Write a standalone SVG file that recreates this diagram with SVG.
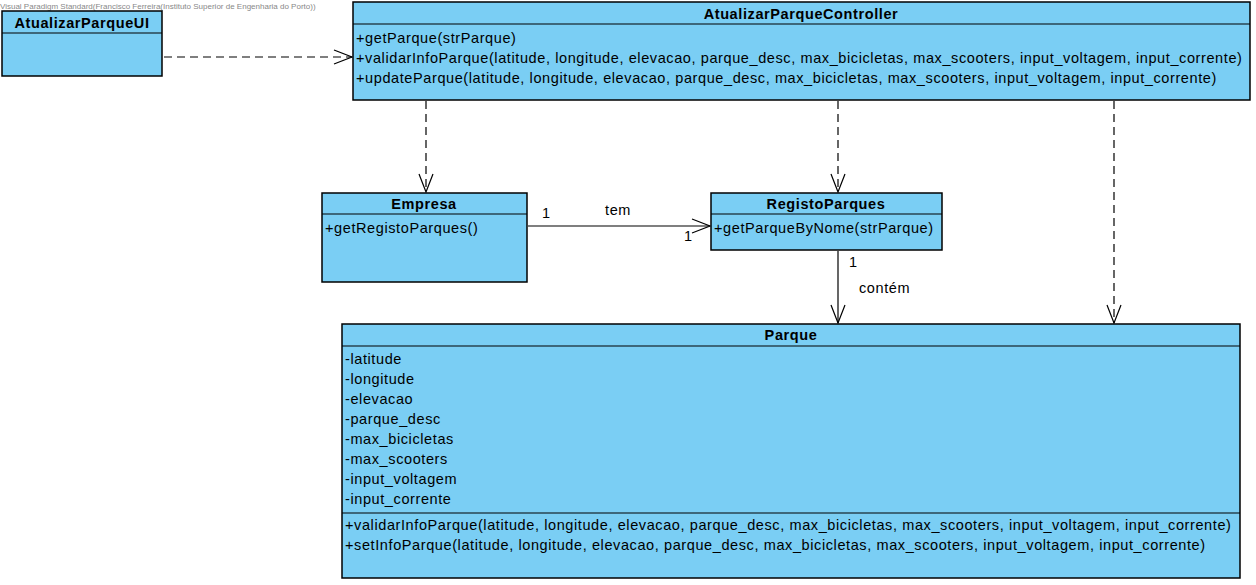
<svg xmlns="http://www.w3.org/2000/svg" width="1256" height="585" viewBox="0 0 1256 585">
<defs>
<style>
.box{fill:#7acef4;stroke:#000;stroke-width:1.5}
.div{stroke:#000;stroke-width:1.2}
.t{font-family:"Liberation Sans",Arial,sans-serif;font-size:14.5px;letter-spacing:0.6px;fill:#000}
.b{font-weight:bold;text-anchor:middle}
.dep{stroke:#000;stroke-width:1.2;fill:none;stroke-dasharray:8,5}
.asc{stroke:#000;stroke-width:1.2;fill:none}
.wm{font-family:"Liberation Sans",Arial,sans-serif;font-size:8px;fill:#888}
</style>
<marker id="open" viewBox="0 0 20 20" refX="19" refY="10" markerWidth="20" markerHeight="20" markerUnits="userSpaceOnUse" orient="auto">
<path d="M1,3 L19,10 L1,17" fill="none" stroke="#000" stroke-width="1.2"/>
</marker>
</defs>
<rect width="1256" height="585" fill="#fff"/>
<text class="wm" x="0" y="9">Visual Paradigm Standard(Francisco Ferreira(Instituto Superior de Engenharia do Porto))</text>

<g id="connectors">
<line class="dep" x1="164" y1="57" x2="352" y2="57" marker-end="url(#open)"/>
<line class="dep" x1="426" y1="101" x2="426" y2="192" marker-end="url(#open)"/>
<line class="dep" x1="838" y1="101" x2="838" y2="192" marker-end="url(#open)"/>
<line class="dep" x1="1114" y1="101" x2="1114" y2="323" marker-end="url(#open)"/>
<line class="asc" x1="528" y1="226" x2="710" y2="226" marker-end="url(#open)"/>
<text class="t" x="542" y="218">1</text>
<text class="t" x="605" y="215">tem</text>
<text class="t" x="684" y="241">1</text>
<line class="asc" x1="838" y1="251" x2="838" y2="323" marker-end="url(#open)"/>
<text class="t" x="849" y="267">1</text>
<text class="t" x="859" y="293">contém</text>
</g>

<g id="AtualizarParqueUI">
<rect class="box" x="2" y="11" width="160" height="65"/>
<line class="div" x1="2" y1="33" x2="162" y2="33"/>
<text class="t b" x="82" y="28">AtualizarParqueUI</text>
</g>

<g id="AtualizarParqueController">
<rect class="box" x="353" y="2" width="897" height="98"/>
<line class="div" x1="353" y1="24" x2="1250" y2="24"/>
<text class="t b" x="801" y="19">AtualizarParqueController</text>
<text class="t" x="356" y="43">+getParque(strParque)</text>
<text class="t" x="356" y="63">+validarInfoParque(latitude, longitude, elevacao, parque_desc, max_bicicletas, max_scooters, input_voltagem, input_corrente)</text>
<text class="t" x="356" y="83">+updateParque(latitude, longitude, elevacao, parque_desc, max_bicicletas, max_scooters, input_voltagem, input_corrente)</text>
</g>

<g id="Empresa">
<rect class="box" x="322" y="193" width="205" height="89"/>
<line class="div" x1="322" y1="214" x2="527" y2="214"/>
<text class="t b" x="424" y="209">Empresa</text>
<text class="t" x="325" y="233">+getRegistoParques()</text>
</g>

<g id="RegistoParques">
<rect class="box" x="711" y="193" width="231" height="57"/>
<line class="div" x1="711" y1="214" x2="942" y2="214"/>
<text class="t b" x="826" y="209">RegistoParques</text>
<text class="t" x="714" y="233">+getParqueByNome(strParque)</text>
</g>

<g id="Parque">
<rect class="box" x="342" y="324" width="898" height="254"/>
<line class="div" x1="342" y1="346" x2="1240" y2="346"/>
<line class="div" x1="342" y1="513" x2="1240" y2="513"/>
<text class="t b" x="791" y="340">Parque</text>
<text class="t" x="345" y="364">-latitude</text>
<text class="t" x="345" y="384">-longitude</text>
<text class="t" x="345" y="404">-elevacao</text>
<text class="t" x="345" y="424">-parque_desc</text>
<text class="t" x="345" y="444">-max_bicicletas</text>
<text class="t" x="345" y="464">-max_scooters</text>
<text class="t" x="345" y="484">-input_voltagem</text>
<text class="t" x="345" y="504">-input_corrente</text>
<text class="t" x="345" y="530">+validarInfoParque(latitude, longitude, elevacao, parque_desc, max_bicicletas, max_scooters, input_voltagem, input_corrente)</text>
<text class="t" x="345" y="550">+setInfoParque(latitude, longitude, elevacao, parque_desc, max_bicicletas, max_scooters, input_voltagem, input_corrente)</text>
</g>
</svg>
